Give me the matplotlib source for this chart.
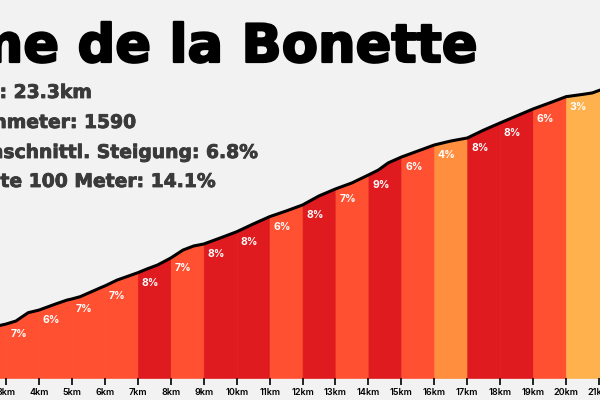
import numpy as np
import matplotlib
matplotlib.use("Agg")
import matplotlib.pyplot as plt
import matplotlib.patheffects as pe

# profile (km, metres)
km = [2.8, 3.0, 3.3, 3.67, 4.0, 4.5, 4.85, 5.0, 5.25, 5.85, 6.0, 6.37, 7.0, 7.28, 7.6,
      8.0, 8.37, 8.7, 9.0, 9.5, 10.0, 10.5, 11.0, 11.5, 12.0, 12.5, 13.0, 13.5, 14.0,
      14.3, 14.6, 15.0, 15.5, 16.0, 16.5, 17.0, 17.5, 18.0, 18.5, 19.0, 19.5, 20.0,
      20.5, 20.8, 21.0, 21.2]
elev = [1378, 1386, 1402, 1446, 1460, 1492, 1513, 1519, 1531, 1577, 1588, 1619, 1658,
        1678, 1699, 1736, 1778, 1800, 1810, 1842, 1875, 1916, 1955, 1985, 2017, 2065,
        2102, 2134, 2176, 2202, 2240, 2271, 2303, 2335, 2356, 2372, 2414, 2452, 2489,
        2526, 2558, 2591, 2603, 2611, 2624, 2636]

seg_start = list(range(2, 21))
seg_grade = [7, 7, 6, 7, 7, 8, 7, 8, 8, 6, 8, 7, 9, 6, 4, 8, 8, 6, 3]

tick_km = list(range(3, 22))
tick_labels = [f"{k}km" for k in tick_km]

title = "Cime de la Bonette"
stats = ["Länge: 23.3km", "Höhenmeter: 1590",
         "Durchschnittl. Steigung: 6.8%", "Steilste 100 Meter: 14.1%"]


def grade_color(g):
    if g <= 3:
        return "#FFB14E"
    if g <= 5:
        return "#FF8E3E"
    if g <= 7:
        return "#FF5131"
    return "#E01B1F"


bg = "#F2F2F2"
fig = plt.figure(figsize=(6, 4), dpi=100, facecolor=bg)
ax = fig.add_axes([0, 22 / 400, 1, 378 / 400])
ax.set_facecolor(bg)

km_a = np.array(km)
elev_a = np.array(elev)
ymin = 1100
ax.set_xlim(2.816, 21.03)
ax.set_ylim(ymin, ymin + 378 * 5.3)

for s, g in zip(seg_start, seg_grade):
    e = s + 1 if s < seg_start[-1] else km[-1]
    m = (km_a >= s) & (km_a <= e)
    c = grade_color(g)
    ax.fill_between(km_a[m], ymin, elev_a[m], facecolor=c, edgecolor=c, lw=0.5)
    if s >= 3:
        y0 = elev_a[km_a == s][0]
        ax.text(s + 0.38, y0 - 55, f"{g}%", color="white", fontsize=7.5,
                fontweight="bold", ha="center", va="center", family="Inter")

ax.plot(km, elev, color="black", lw=2.2, solid_capstyle="round")

for sp in ax.spines.values():
    sp.set_visible(False)
ax.set_yticks([])
ax.set_xticks(tick_km)
ax.set_xticklabels(tick_labels, fontsize=6.5, family="Inter", fontweight="semibold")
ax.tick_params(axis="x", length=5, width=1.2, pad=2, color="black")

fig.text(477 / 600, 1 - 62 / 400, title, ha="right", va="baseline",
         fontsize=38, fontweight="bold", family="DejaVu Sans", color="black",
         path_effects=[pe.withStroke(linewidth=1.6, foreground="black")])

rights = [92, 136, 258, 215]
bases = [98, 128, 158, 187]
for t, r, b in zip(stats, rights, bases):
    fig.text(r / 600, 1 - b / 400, t, ha="right", va="baseline",
             fontsize=13.5, fontweight="bold", family="DejaVu Sans", color="#3A3A3A",
             path_effects=[pe.withStroke(linewidth=0.6, foreground="#3A3A3A")])

fig.savefig("out.png", dpi=100, facecolor=bg)
